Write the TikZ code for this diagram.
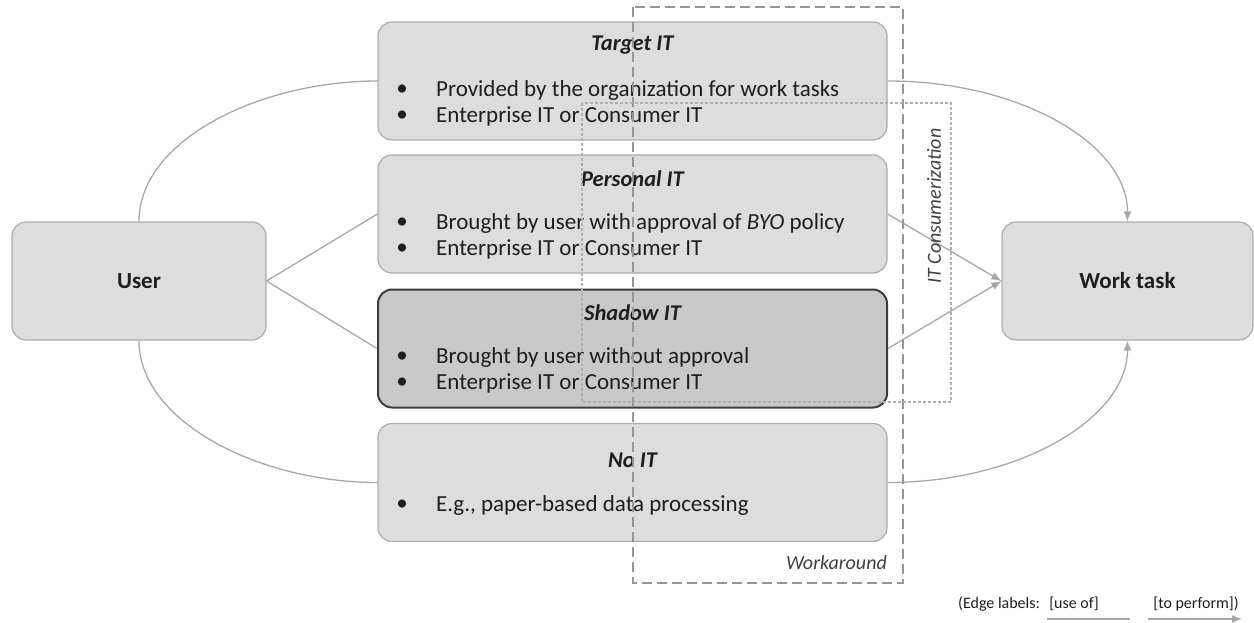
\documentclass[tikz,border=0pt]{standalone}
\usepackage{fontspec}
\setmainfont{Carlito}
\usetikzlibrary{arrows.meta}
\definecolor{boxfill}{RGB}{221,221,221}
\definecolor{boxline}{RGB}{172,172,172}
\definecolor{shadowfill}{RGB}{201,201,201}
\definecolor{shadowline}{RGB}{60,60,60}
\definecolor{edgegray}{RGB}{168,168,168}
\definecolor{framegray}{RGB}{150,150,150}
\definecolor{dotgray}{RGB}{175,175,175}
\definecolor{ink}{RGB}{30,30,30}
\begin{document}
\begin{tikzpicture}[x=1pt,y=-1pt,
  itbox/.style={draw=boxline, fill=boxfill, line width=1.2pt, rounded corners=14pt,
    minimum width=509pt, minimum height=118pt, inner sep=0pt},
  shadowbox/.style={itbox, draw=shadowline, fill=shadowfill, line width=2pt},
  endbox/.style={draw=boxline, fill=boxfill, line width=1.2pt, rounded corners=14pt,
    minimum height=118pt, inner sep=0pt, text=ink,
    font=\fontsize{23}{27}\selectfont\bfseries},
  boxtitle/.style={text=ink, inner sep=0pt, font=\fontsize{22.5}{26}\selectfont\bfseries\itshape},
  bul/.style={text=ink, inner sep=0pt, font=\fontsize{23}{26}\selectfont},
  itemtext/.style={anchor=west, text=ink, inner sep=0pt, font=\fontsize{23}{26}\selectfont},
  framelabel/.style={text=ink!85, inner sep=0pt, font=\fontsize{20}{24}\selectfont\itshape},
  legendtext/.style={text=ink, inner sep=0pt, font=\fontsize{16}{19}\selectfont},
  useof/.style={draw=edgegray, line width=1.3pt},
  perform/.style={useof, -{Latex[length=10pt,width=8pt]}},
  workframe/.style={draw=framegray, line width=1.2pt, dash pattern=on 10pt off 5pt},
  consumframe/.style={draw=dotgray, line width=1.2pt, dash pattern=on 3pt off 2pt}
]
\useasboundingbox (0,0) rectangle (1254,623);

% end points: user and work task
\node[endbox, minimum width=254pt] (user) at (139,281) {User};
\node[endbox, minimum width=251pt] (work) at (1127.5,281) {Work task};

% the four kinds of IT
\node[itbox] (target) at (632.5,81) {};
\node[itbox] (personal) at (632.5,214) {};
\node[shadowbox] (shadow) at (632.5,348.5) {};
\node[itbox] (noit) at (632.5,482.5) {};

% connectors: user uses an IT kind, which is used to perform the work task
\draw[useof] (user.north) .. controls (139,140) and (260,81) .. (target.west);
\draw[useof] (user.east) -- (personal.west);
\draw[useof] (user.east) -- (shadow.west);
\draw[useof] (user.south) .. controls (139,422) and (260,482.5) .. (noit.west);

\draw[perform] (target.east) .. controls (1020,81) and (1127.5,144) .. (work.north);
\draw[perform] (personal.east) -- (work.west);
\draw[perform] (shadow.east) -- (work.west);
\draw[perform] (noit.east) .. controls (1020,482.5) and (1127.5,418) .. (work.south);

% box contents
\node[boxtitle] (targetT) at (632.5,45) {Target IT};
\node[bul] (targetB1) at (402,90) {\textbullet};
\node[itemtext] (targetL1) at (436,90) {Provided by the organization for work tasks};
\node[bul] (targetB2) at (402,116) {\textbullet};
\node[itemtext] (targetL2) at (436,116) {Enterprise IT or Consumer IT};

\node[boxtitle] (personalT) at (632.5,179) {Personal IT};
\node[bul] (personalB1) at (402,223) {\textbullet};
\node[itemtext] (personalL1) at (436,223) {Brought by user with approval of \textit{BYO} policy};
\node[bul] (personalB2) at (402,249) {\textbullet};
\node[itemtext] (personalL2) at (436,249) {Enterprise IT or Consumer IT};

\node[boxtitle] (shadowT) at (632.5,313) {Shadow IT};
\node[bul] (shadowB1) at (402,357) {\textbullet};
\node[itemtext] (shadowL1) at (436,357) {Brought by user without approval};
\node[bul] (shadowB2) at (402,383) {\textbullet};
\node[itemtext] (shadowL2) at (436,383) {Enterprise IT or Consumer IT};

\node[boxtitle] (noitT) at (632.5,460) {No IT};
\node[bul] (noitB1) at (402,505) {\textbullet};
\node[itemtext] (noitL1) at (436,505) {E.g., paper-based data processing};

% grouping frames
\draw[workframe] (633,7) rectangle (903,583);
\draw[consumframe] (582,103) rectangle (951,402);
\node[framelabel, anchor=east] (workaroundL) at (887,563) {Workaround};
\node[framelabel, rotate=90] (consumL) at (934,206) {IT Consumerization};

% legend
\node[legendtext, anchor=west] (legA) at (958,604) {(Edge labels:};
\node[legendtext] (legB) at (1074,604) {[use of]};
\node[legendtext] (legC) at (1196,604) {[to perform])};
\coordinate (legU1) at (1047,619);
\coordinate (legU2) at (1130,619);
\coordinate (legP1) at (1148,619);
\coordinate (legP2) at (1242,619);
\draw[useof] (legU1) -- (legU2);
\draw[perform] (legP1) -- (legP2);
\end{tikzpicture}
\end{document}
